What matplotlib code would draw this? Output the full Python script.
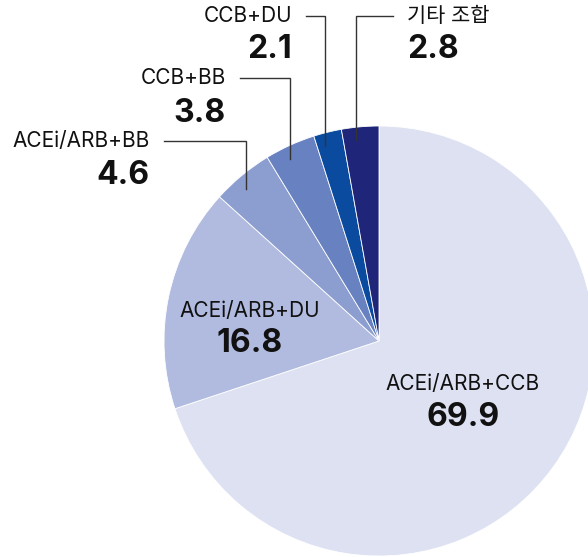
import numpy as np
import matplotlib.pyplot as plt

# data
labels = ['ACEi/ARB+CCB', 'ACEi/ARB+DU', 'ACEi/ARB+BB', 'CCB+BB', 'CCB+DU', '기타 조합']
values = [69.9, 16.8, 4.6, 3.8, 2.1, 2.8]
colors = ['#dde1f2', '#b1bbe0', '#8c9dd0', '#6781c1', '#0a4b9f', '#1f2579']

FONT = ['Inter', 'Noto Sans CJK KR', 'DejaVu Sans']
W, H = 588, 557
cx, cy, R = 379, 341, 215

fig = plt.figure(figsize=(W / 100, H / 100), dpi=100)
ax = fig.add_axes([0, 0, 1, 1])

# y axis runs downward, so start at -90 and go counterclockwise in data -> clockwise on screen
wedges, _ = ax.pie(values, colors=colors, startangle=-90, counterclock=True,
                   center=(cx, cy), radius=R,
                   wedgeprops=dict(edgecolor='white', linewidth=0.6))
ax.set_xlim(0, W)
ax.set_ylim(H, 0)
ax.set_aspect('equal')
ax.axis('off')

# labels inside the two big slices
inner = {0: (463, 384, 418), 1: (250, 311, 343)}
for i, (x, y1, y2) in inner.items():
    ax.text(x, y1, labels[i], ha='center', va='center', fontsize=15, family=FONT, color='#111111')
    ax.text(x, y2, f'{values[i]}', ha='center', va='center', fontsize=23, fontweight='bold',
            family=FONT, color='#111111')

# outer labels with leader lines: (text edge x, name y, value y, side)
outer = {2: (150, 141, 175, 'right'),
         3: (226, 78, 113, 'right'),
         4: (292, 16, 50, 'right'),
         5: (407, 16, 50, 'left')}
gap = 14
for i, (x, y1, y2, ha) in outer.items():
    ax.text(x, y1, labels[i], ha=ha, va='center', fontsize=15, family=FONT, color='#111111')
    ax.text(x, y2, f'{values[i]}', ha=ha, va='center', fontsize=23, fontweight='bold',
            family=FONT, color='#111111')
    w = wedges[i]
    mid = np.deg2rad((w.theta1 + w.theta2) / 2 - 1.5)
    ex = cx + 0.94 * R * np.cos(mid)
    ey = cy + 0.94 * R * np.sin(mid)
    sx = x + gap if ha == 'right' else x - gap
    ax.plot([sx, ex, ex], [y1, y1, ey], color='#333333', lw=1, solid_joinstyle='miter')

fig.savefig('out.png', dpi=100)
